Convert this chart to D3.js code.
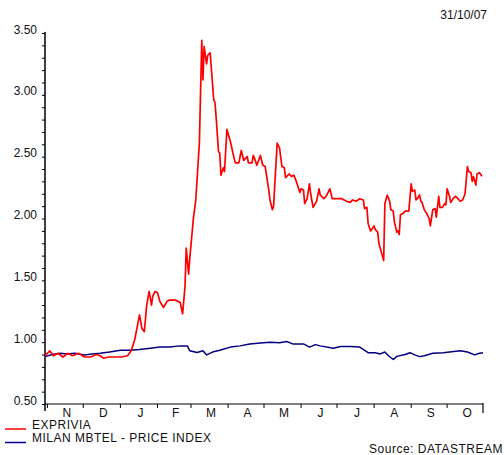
<!DOCTYPE html>
<html>
<head>
<meta charset="UTF-8">
<title>EXPRIVIA vs MILAN MBTEL</title>
<script src="https://d3js.org/d3.v7.min.js"></script>
<style>
  body { margin: 0; background: #fff; }
  svg { font-family: "Liberation Sans", Arial, sans-serif; }
  .lbl { font-size: 12px; fill: #111; }
  .wide { letter-spacing: 0.5px; }
</style>
</head>
<body>
<svg id="chart" width="504" height="455"></svg>
<script>
// series start date, points are day offsets from it
const startDate = new Date(2006, 9, 30);
const endDate = new Date(2007, 9, 31);

const redDays = [0, 4, 7, 11, 15, 19, 23, 28, 33, 38, 43, 46, 49, 53, 58, 64, 69, 72, 75, 79, 81, 83, 85, 87, 89, 90, 92, 94, 96, 99, 102, 104, 109, 113, 115, 117, 118, 120, 121, 124, 126, 129,
  131, 132, 133, 135, 136, 138, 141, 142, 143, 145, 146, 147, 149, 150, 152, 155, 157, 159, 162, 164, 166, 169, 170, 173, 174, 175, 177, 180, 182, 184, 187, 188, 190, 191,
  194, 196, 198, 200, 201, 202, 204, 206, 208, 210, 213, 214, 216, 217, 219, 221, 222, 224, 227, 229, 230, 233, 235, 238, 240, 242, 245, 248, 252, 255, 257, 260, 263, 266,
  267, 269, 270, 272, 273, 275, 276, 278, 279, 281, 283, 284, 286, 288, 289, 291, 292, 294, 295, 296, 297, 299, 301, 304, 306, 307, 309, 310, 311, 313, 314, 315, 317, 319,
  321, 322, 324, 326, 327, 329, 330, 332, 334, 335, 336, 338, 339, 341, 343, 345, 347, 349, 351, 353, 354, 356, 357, 358, 360, 361, 363, 364, 365];
const redValues = [0.89, 0.93, 0.89, 0.91, 0.88, 0.91, 0.89, 0.91, 0.88, 0.88, 0.90, 0.89, 0.87, 0.88, 0.88, 0.88, 0.89, 0.93, 1.02, 1.22, 1.11, 1.085, 1.30, 1.41, 1.30, 1.37, 1.41, 1.40, 1.33, 1.28, 1.33, 1.34, 1.34, 1.32, 1.23, 1.45, 1.76, 1.55, 1.68, 2.00, 2.15, 2.61,
  3.44, 3.12, 3.39, 3.25, 3.32, 3.34, 2.96, 2.94, 2.82, 2.54, 2.53, 2.35, 2.41, 2.38, 2.72, 2.62, 2.53, 2.45, 2.45, 2.55, 2.47, 2.50, 2.45, 2.45, 2.51, 2.49, 2.43, 2.51, 2.43, 2.42, 2.23, 2.15, 2.07, 2.10,
  2.61, 2.57, 2.42, 2.41, 2.33, 2.34, 2.36, 2.34, 2.35, 2.30, 2.21, 2.24, 2.23, 2.12, 2.16, 2.28, 2.20, 2.09, 2.14, 2.24, 2.19, 2.16, 2.18, 2.24, 2.16, 2.16, 2.16, 2.16, 2.14, 2.13, 2.15, 2.14, 2.16, 2.15,
  2.08, 2.09, 1.96, 1.90, 1.91, 1.94, 1.91, 1.89, 1.80, 1.73, 1.66, 2.12, 2.19, 2.14, 2.07, 2.06, 1.97, 1.89, 1.90, 1.87, 2.03, 2.04, 2.06, 2.06, 2.28, 2.22, 2.23, 2.15, 2.16, 2.19, 2.14, 2.13, 2.07, 2.04,
  2.00, 1.94, 2.07, 2.08, 2.01, 2.18, 2.09, 2.09, 2.12, 2.11, 2.24, 2.18, 2.13, 2.16, 2.18, 2.16, 2.14, 2.15, 2.20, 2.42, 2.38, 2.37, 2.30, 2.34, 2.27, 2.36, 2.37, 2.36, 2.34];

const blueDays = [0, 6, 13, 18, 25, 33, 39, 46, 54, 63, 71, 79, 88, 96, 104, 113, 119, 121, 127, 132, 135, 140, 146, 155, 163, 171, 180, 188, 196, 202, 207, 216, 221, 226, 230, 241, 247, 255, 263,
  270, 276, 280, 284, 287, 291, 294, 301, 305, 309, 313, 317, 324, 333, 338, 347, 353, 359, 363, 366];
const blueValues = [0.883, 0.90, 0.91, 0.905, 0.91, 0.897, 0.905, 0.91, 0.92, 0.935, 0.935, 0.94, 0.95, 0.96, 0.96, 0.97, 0.97, 0.93, 0.916, 0.93, 0.897, 0.92, 0.935, 0.96, 0.97, 0.985, 0.993, 1.0, 0.996, 1.005, 0.986, 0.986, 0.96, 0.98, 0.97, 0.95, 0.965, 0.965, 0.96,
  0.915, 0.915, 0.905, 0.92, 0.89, 0.86, 0.885, 0.90, 0.915, 0.897, 0.883, 0.89, 0.91, 0.915, 0.92, 0.93, 0.92, 0.897, 0.91, 0.915];

const yMajor = [0.5, 1.0, 1.5, 2.0, 2.5, 3.0, 3.5];
const monthLabels = ["N", "D", "J", "F", "M", "A", "M", "J", "J", "A", "S", "O"];
const legendNames = ["EXPRIVIA", "MILAN MBTEL - PRICE INDEX"];
const colors = ["#ff0000", "#000080"];

const svg = d3.select("#chart");

const x = d3.scaleTime().domain([startDate, endDate]).range([45, 483]);
const y = d3.scaleLinear().domain([0.5, 3.5]).range([404, 33]);

const toPoints = (days, vals) => days.map((d, i) => ({ date: d3.timeDay.offset(startDate, d), v: vals[i] }));
const red = toPoints(redDays, redValues);
const blue = toPoints(blueDays, blueValues);

// y axis with minor ticks every 0.1
const yTicks = d3.range(5, 36).map(d => d / 10);
const yAxis = svg.append("g")
  .attr("transform", "translate(45,0)")
  .call(d3.axisLeft(y).tickValues(yTicks).tickSize(3).tickPadding(5)
    .tickFormat(d => yMajor.some(m => Math.abs(m - d) < 1e-6) ? d.toFixed(2) : ""));
yAxis.select(".domain").remove();
yAxis.selectAll(".tick line").attr("stroke", "#000").attr("stroke-width", 1);
yAxis.selectAll(".tick text").attr("class", "lbl").attr("dy", null).attr("y", 0)
  .style("font-size", "12px").attr("font-family", null);

svg.append("line").attr("x1", 45).attr("x2", 45).attr("y1", 32).attr("y2", 411)
  .attr("stroke", "#000").attr("stroke-width", 1.5);

// x axis
const months = d3.timeMonth.range(new Date(2006, 10, 1), endDate);
svg.append("line").attr("x1", 45).attr("x2", 483).attr("y1", 404).attr("y2", 404)
  .attr("stroke", "#000").attr("stroke-width", 1.2);
svg.append("g").selectAll("line").data(months).join("line")
  .attr("x1", d => x(d)).attr("x2", d => x(d))
  .attr("y1", 404).attr("y2", 408)
  .attr("stroke", "#000").attr("stroke-width", 1);
svg.append("line").attr("x1", x(endDate)).attr("x2", x(endDate)).attr("y1", 403).attr("y2", 413)
  .attr("stroke", "#000").attr("stroke-width", 1.2);

svg.append("g").selectAll("text").data(months).join("text")
  .attr("class", "lbl")
  .attr("x", (d, i) => (x(d) + x(d3.timeMonth.offset(d, 1))) / 2 + 1.5)
  .attr("y", 417)
  .attr("text-anchor", "middle")
  .text((d, i) => monthLabels[i]);

// lines
const line = d3.line().x(d => x(d.date)).y(d => y(d.v));
svg.append("path").datum(blue).attr("d", line)
  .attr("fill", "none").attr("stroke", colors[1]).attr("stroke-width", 1.5).attr("stroke-linejoin", "round");
svg.append("path").datum(red).attr("d", line)
  .attr("fill", "none").attr("stroke", colors[0]).attr("stroke-width", 1.7).attr("stroke-linejoin", "round");

// legend
const leg = svg.append("g").selectAll("g").data(legendNames).join("g")
  .attr("transform", (d, i) => `translate(0,${429 + i * 13.5})`);
leg.append("line").attr("x1", 5).attr("x2", 26).attr("y1", 0).attr("y2", 0)
  .attr("stroke", (d, i) => colors[i]).attr("stroke-width", 1.5);
leg.append("text").attr("class", "lbl wide").attr("x", 32).attr("y", -0.5).text(d => d);

svg.append("text").attr("class", "lbl").attr("x", 487).attr("y", 19)
  .attr("text-anchor", "end").text("31/10/07");
svg.append("text").attr("class", "lbl wide").attr("x", 503).attr("y", 453)
  .attr("text-anchor", "end").text("Source: DATASTREAM");
</script>
</body>
</html>
